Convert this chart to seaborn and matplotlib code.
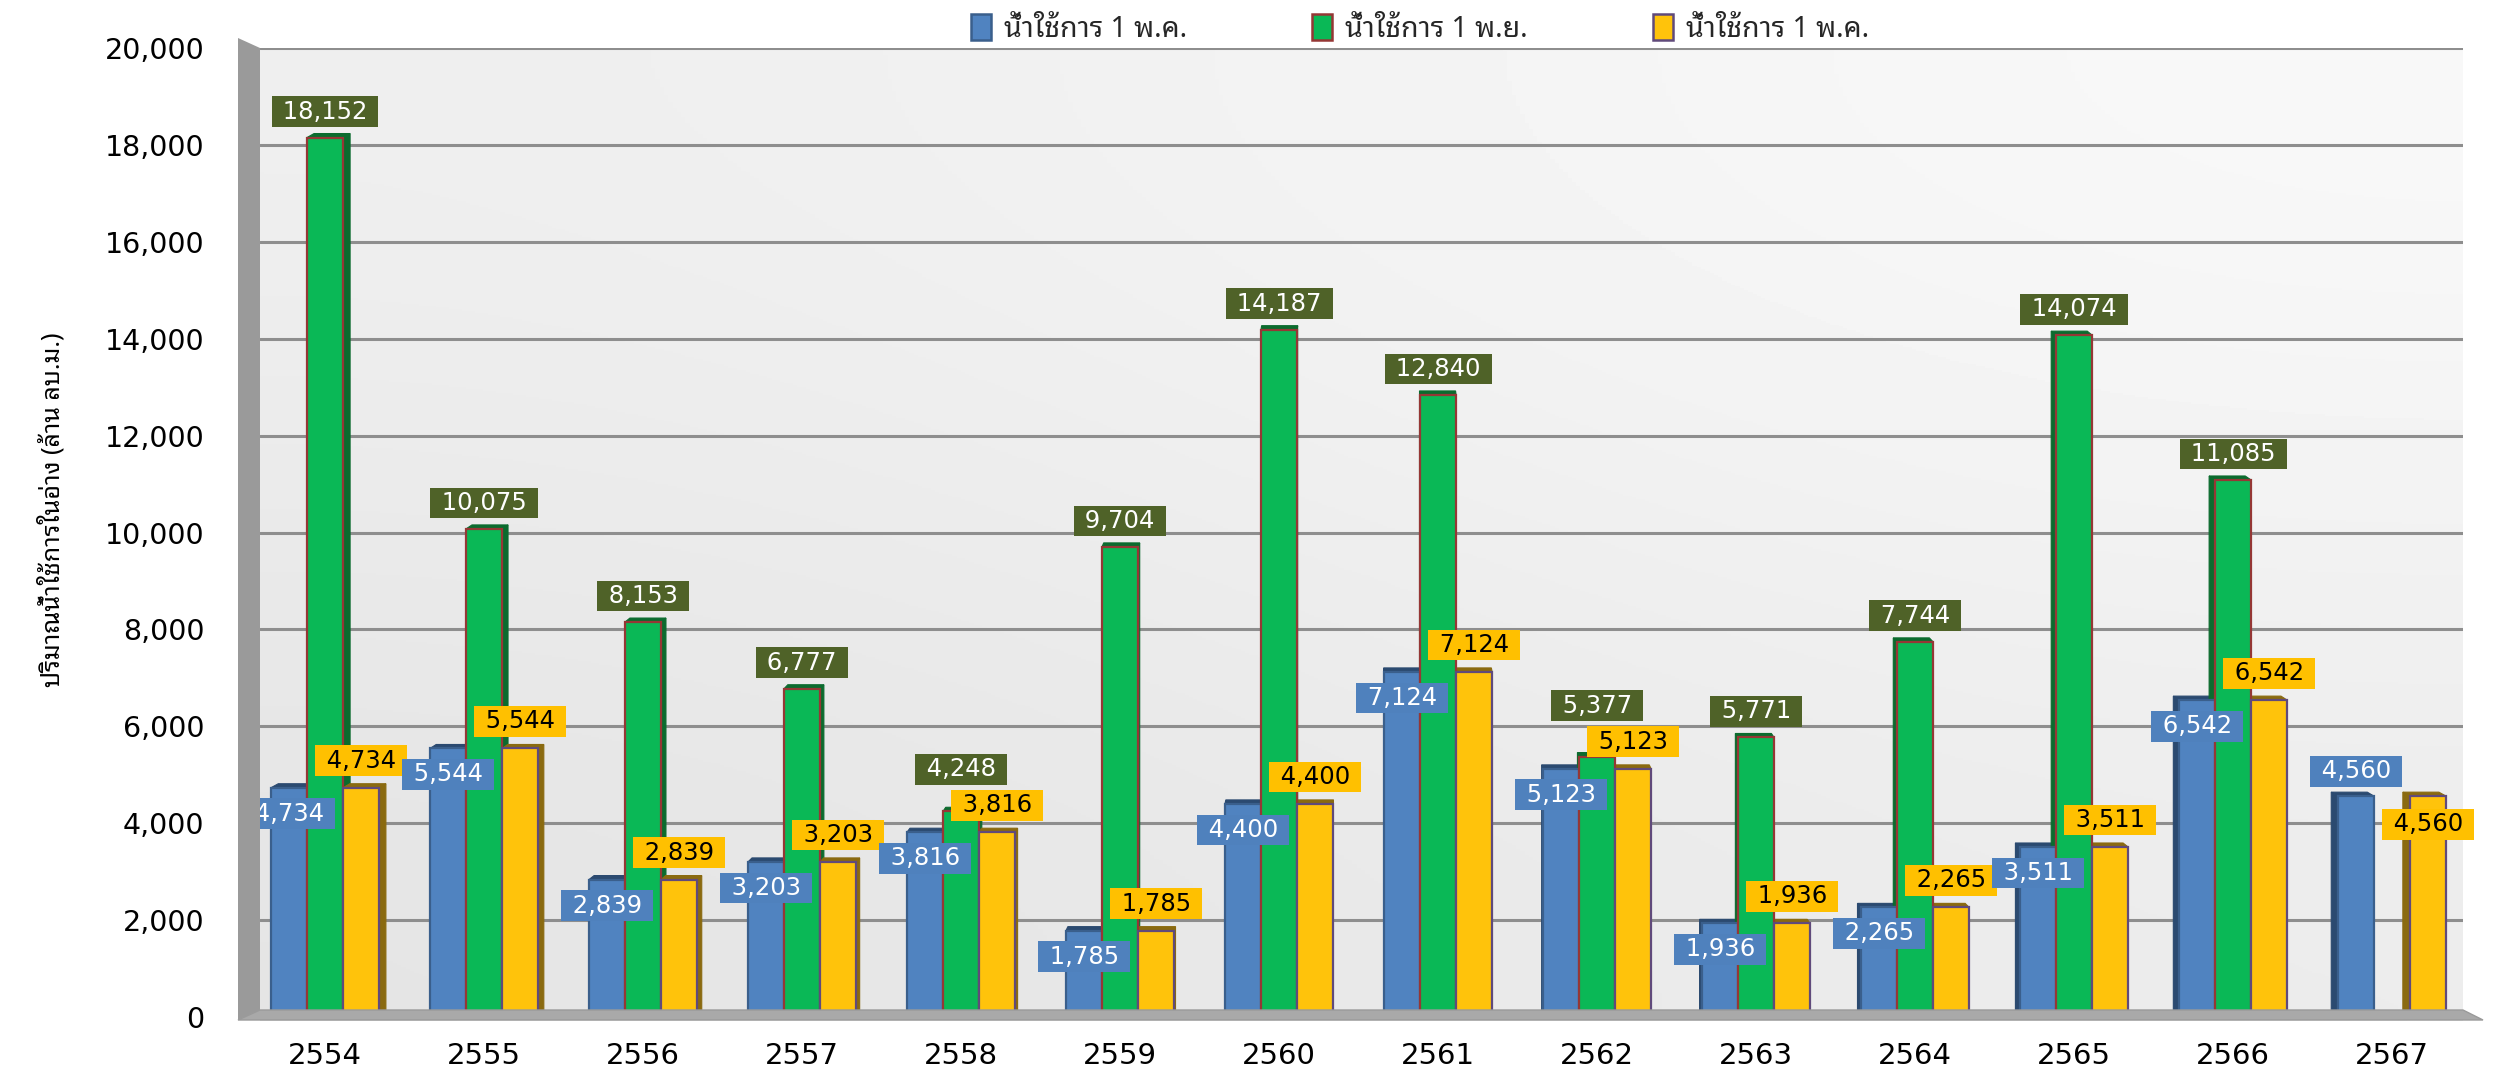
import numpy as np
import pandas as pd
import matplotlib
matplotlib.use("Agg")
import matplotlib.pyplot as plt
import seaborn as sns
from matplotlib import font_manager
from matplotlib.ft2font import FT2Font
from matplotlib.patches import Polygon, Patch
from matplotlib.font_manager import FontProperties

# ---------------------------------------------------------------- data
years = ["2554", "2555", "2556", "2557", "2558", "2559", "2560",
         "2561", "2562", "2563", "2564", "2565", "2566", "2567"]
may_start = [4734, 5544, 2839, 3203, 3816, 1785, 4400,
             7124, 5123, 1936, 2265, 3511, 6542, 4560]
nov_start = [18152, 10075, 8153, 6777, 4248, 9704, 14187,
             12840, 5377, 5771, 7744, 14074, 11085, np.nan]
may_end = [4734, 5544, 2839, 3203, 3816, 1785, 4400,
           7124, 5123, 1936, 2265, 3511, 6542, 4560]

series_keys = ["may_start", "nov_start", "may_end"]
legend_labels = ["น้ำใช้การ 1 พ.ค.", "น้ำใช้การ 1 พ.ย.", "น้ำใช้การ 1 พ.ค."]
y_label = "ปริมาณน้ำใช้การในอ่าง (ล้าน ลบ.ม.)"
y_ticks = list(range(0, 20001, 2000))

# ---------------------------------------------------------------- styles
face = {"may_start": "#5083C0", "nov_start": "#0AB856", "may_end": "#FFC30B"}
edge = {"may_start": "#3A5F8C", "nov_start": "#953735", "may_end": "#604A7B"}
side = {"may_start": "#2B4A70", "nov_start": "#0B6B2E", "may_end": "#8A6A10"}
box_face = {"may_start": "#4F81BD", "nov_start": "#4F6228", "may_end": "#FFC000"}
box_text = {"may_start": "white", "nov_start": "white", "may_end": "black"}


def find_thai_family():
    preferred = ["Noto Sans Thai Looped", "Noto Sans Thai", "Tahoma", "Loma",
                 "Garuda", "Sarabun", "TH Sarabun New", "Waree", "Kinnari",
                 "Norasi", "Umpush", "Sawasdee", "Laksaman"]
    found = []
    for f in font_manager.fontManager.ttflist:
        if f.name in found:
            continue
        try:
            if 0x0E19 in FT2Font(f.fname).get_charmap():
                found.append(f.name)
        except Exception:
            pass
    for name in preferred:
        if name in found:
            return name
    return found[0] if found else "DejaVu Sans"


sns.set_theme(style="white")
THAI = find_thai_family()
plt.rcParams["font.family"] = ["DejaVu Sans", THAI]
thai_fam = [THAI, "DejaVu Sans"]

W, H = 2496, 1073
fig = plt.figure(figsize=(W / 100, H / 100), dpi=100, facecolor="white")


def fx(px):
    return px / W


def fy(py):
    return 1 - py / H


# plot area (back wall) in pixel coordinates
AX_L, AX_R, AX_T, AX_B = 260, 2463, 48, 1021
ax = fig.add_axes([fx(AX_L), fy(AX_B), fx(AX_R - AX_L), (AX_B - AX_T) / H])

# back-wall gradient
grad = np.array([[0.935, 0.975], [0.895, 0.925]])
ax.imshow(grad, extent=(0, 1, 0, 1), transform=ax.transAxes, cmap="gray",
          vmin=0, vmax=1, interpolation="bicubic", aspect="auto", zorder=0)

# left wall and floor, drawn around the plot area
fig_px = lambda pts: [(fx(x), fy(y)) for x, y in pts]
fig.patches.append(Polygon(fig_px([(238, 38), (AX_L, AX_T), (AX_L, 1010), (238, 1020)]),
                           closed=True, transform=fig.transFigure,
                           facecolor="#9A9A9A", edgecolor="none", zorder=0))
fig.patches.append(Polygon(fig_px([(AX_L, 1010), (AX_R, 1010), (2483, 1020), (238, 1020)]),
                           closed=True, transform=fig.transFigure,
                           facecolor="#A9A9A9", edgecolor="#9A9A9A", lw=1, zorder=0))

# ---------------------------------------------------------------- bars
df = pd.DataFrame({
    "year": years * 3,
    "series": sum([[k] * len(years) for k in series_keys], []),
    "value": may_start + nov_start + may_end,
})

sns.barplot(data=df, x="year", y="value", hue="series", order=years,
            hue_order=series_keys, palette=face, width=0.68, gap=0,
            saturation=1, dodge=True, legend=False, linewidth=1.6,
            edgecolor="none", ax=ax, zorder=3)

ax.set_xlim(-0.409, 13.446)
ax.set_ylim(-80, 20000)
ax.set_yticks(y_ticks)
ax.set_yticklabels([f"{t:,}" for t in y_ticks])
ax.grid(axis="y", color="#8E8E8E", lw=2.2, zorder=1)
ax.grid(axis="x", visible=False)
ax.set_axisbelow(True)
for s in ax.spines.values():
    s.set_visible(False)
ax.tick_params(axis="y", length=0, pad=40, labelsize=20.5, labelcolor="black")
ax.tick_params(axis="x", length=0, pad=15, labelsize=21, labelcolor="black")
ax.set_xlabel("")
ax.set_ylabel("")

to_px = ax.transData.transform
from_px = ax.transData.inverted().transform
mid_px = (ax.bbox.x0 + ax.bbox.x1) / 2

label_pos = {}
for cont, key in zip(ax.containers, series_keys):
    for bar in cont:
        h = bar.get_height()
        if not np.isfinite(h) or h <= 0:
            continue
        bar.set_edgecolor(edge[key])
        bar.set_linewidth(1.6)
        x0, w = bar.get_x(), bar.get_width()
        (lx, by), (rx, ty) = to_px([(x0, 0), (x0 + w, h)])
        cx = (lx + rx) / 2
        dx = 0.0068 * (mid_px - cx)
        dy = 4.0
        if dx >= 0:
            side_pts = [(rx, by), (rx, ty), (rx + dx, ty + dy), (rx + dx, by)]
        else:
            side_pts = [(lx, by), (lx, ty), (lx + dx, ty + dy), (lx + dx, by)]
        top_pts = [(lx, ty), (rx, ty), (rx + dx, ty + dy), (lx + dx, ty + dy)]
        for pts, col in ((side_pts, side[key]), (top_pts, side[key])):
            ax.add_patch(Polygon(from_px(pts), closed=True, facecolor=col,
                                 edgecolor=col, lw=0.8, zorder=2.5))
        idx = int(round(x0 + w / 2))
        label_pos[(key, idx)] = (x0 + w / 2, h, ty)

# ---------------------------------------------------------------- value labels
PT = 0.72  # points per pixel at 100 dpi


def put_label(key, idx, offset_px):
    x, h, _ = label_pos[(key, idx)]
    ax.annotate(f" {h:,.0f} ", xy=(x, h), xycoords="data",
                xytext=(0, offset_px * PT), textcoords="offset points",
                ha="center", va="center", fontsize=17.5, color=box_text[key],
                family="DejaVu Sans", zorder=6,
                bbox=dict(boxstyle="square,pad=0.14", facecolor=box_face[key],
                          edgecolor="none"))


for i in range(len(years)):
    has_nov = ("nov_start", i) in label_pos
    blue_off = -26 if has_nov else 25
    yellow_off = 27 if has_nov else -28
    put_label("may_start", i, blue_off)
    put_label("may_end", i, yellow_off)
    if has_nov:
        green_top = label_pos[("nov_start", i)][2]
        yellow_center = label_pos[("may_end", i)][2] + yellow_off
        green_center = max(green_top + 26, yellow_center + 36)
        put_label("nov_start", i, green_center - green_top)

# ---------------------------------------------------------------- legend & axis title
handles = [Patch(facecolor=face[k], edgecolor=edge[k], linewidth=1.8) for k in series_keys]
fig.legend(handles, legend_labels, loc="center", bbox_to_anchor=(fx(1420), fy(29)),
           ncol=3, frameon=False, handlelength=0.7, handleheight=1.0,
           handletextpad=0.45, columnspacing=4.4,
           prop=FontProperties(family=thai_fam, weight="bold", size=20.5))

fig.text(fx(52), fy(510), y_label, rotation=90, ha="center", va="center",
         fontsize=18, family=thai_fam, color="black")

fig.savefig("out.png", dpi=100, facecolor="white")
